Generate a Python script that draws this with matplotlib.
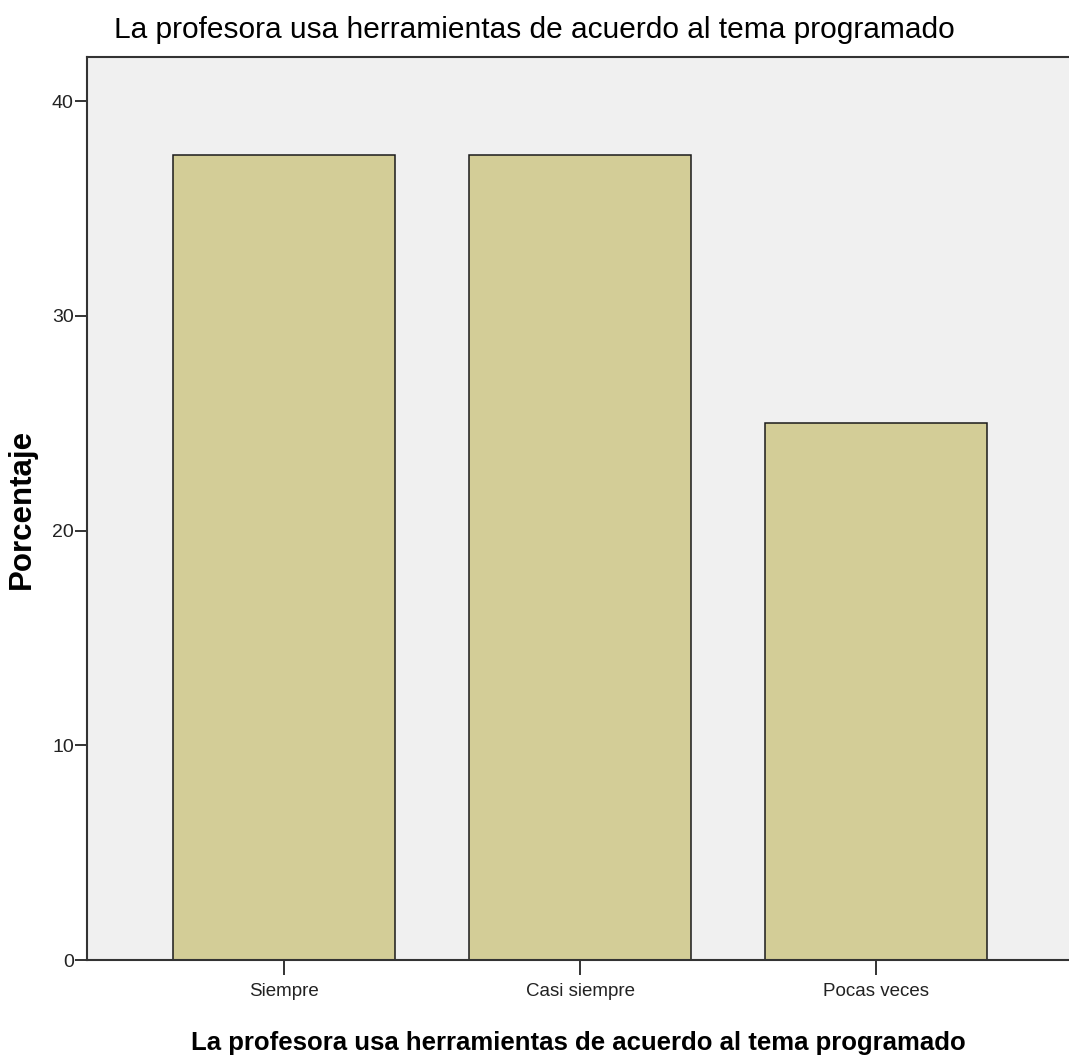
import matplotlib
matplotlib.use("Agg")
import matplotlib.pyplot as plt
from matplotlib import font_manager

# datos
categorias = ["Siempre", "Casi siempre", "Pocas veces"]
porcentajes = [37.5, 37.5, 25.0]
yticks = [0, 10, 20, 30, 40]
titulo = "La profesora usa herramientas de acuerdo al tema programado"

nombres = {f.name for f in font_manager.fontManager.ttflist}
narrow = "Liberation Sans Narrow" if "Liberation Sans Narrow" in nombres else "Liberation Sans"

fig = plt.figure(figsize=(10.69, 10.62), dpi=100)
ax = fig.add_axes([0.0814, 0.0960, 0.9186, 0.8503])
ax.set_facecolor("#F0F0F0")

x = list(range(len(categorias)))
ax.bar(x, porcentajes, width=0.75, color="#D3CD97", edgecolor="#1a1a1a", linewidth=1.1, zorder=2)

ax.set_xlim(-0.666, 2.652)
ax.set_ylim(0, 42.05)
ax.set_yticks(yticks)
ax.set_xticks(x)
ax.set_xticklabels(categorias, fontfamily=narrow, fontsize=13.5, color="#222222")
ax.set_yticklabels([str(v) for v in yticks], fontfamily=narrow, fontsize=14, color="#222222")
ax.tick_params(axis="y", length=8.5, width=1.4, color="#333333", pad=1)
ax.tick_params(axis="x", length=10.5, width=1.4, color="#333333", pad=6)

for s in ["left", "top", "bottom"]:
    ax.spines[s].set_linewidth(1.5)
    ax.spines[s].set_color("#333333")
ax.spines["right"].set_visible(False)

ax.set_ylabel("Porcentaje", fontfamily="Liberation Sans", fontweight="bold", fontsize=22.5, va="center")
ax.yaxis.set_label_coords(-0.066, 0.500)
ax.set_xlabel(titulo, fontfamily=narrow, fontweight="bold", fontsize=18.5, va="center")
ax.xaxis.set_label_coords((578 - 87) / 982, -(1043 - 960) / 903)
fig.text(0.4995, 0.972, titulo, ha="center", va="center", fontfamily=narrow, fontsize=21.5)

fig.savefig("out.png", dpi=100)
